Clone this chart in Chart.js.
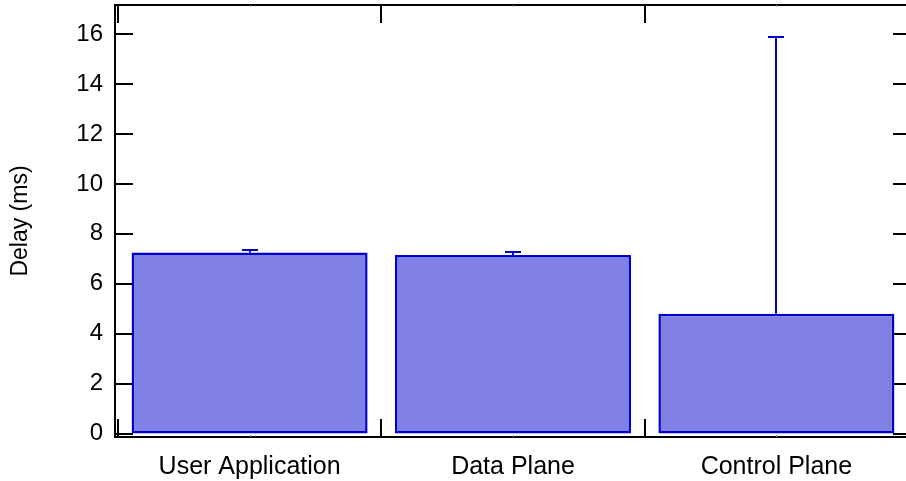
<!DOCTYPE html>
<html>
<head>
<meta charset="utf-8">
<script src="https://cdn.jsdelivr.net/npm/chart.js@4.4.1/dist/chart.umd.min.js"></script>
<style>
  html, body { margin:0; padding:0; background:#fff; }
  #wrap { width:906px; height:481px; overflow:hidden; }
</style>
</head>
<body>
<div id="wrap"><canvas id="chart" width="920" height="481"></canvas></div>
<script>
// data
const categories = ['User Application', 'Data Plane', 'Control Plane'];
const delays = [7.25, 7.15, 4.80];
const errUpper = [0.12, 0.11, 11.10];
const yTicks = [0, 2, 4, 6, 8, 10, 12, 14, 16];

const FAMILY = 'Arial, "Liberation Sans", sans-serif';

// frame with inward ticks + error bars
const framePlugin = {
  id: 'frame',
  afterDatasetsDraw(chart) {
    const ctx = chart.ctx;
    const a = chart.chartArea;
    const xs = chart.scales.x, ys = chart.scales.y;

    // error bars (upper half only)
    ctx.save();
    ctx.strokeStyle = '#0000cc';
    ctx.lineWidth = 2;
    delays.forEach((d, i) => {
      const px = Math.round(xs.getPixelForValue(i));
      const y0 = ys.getPixelForValue(d);
      const y1 = Math.round(ys.getPixelForValue(d + errUpper[i]));
      ctx.beginPath();
      ctx.moveTo(px, y0);
      ctx.lineTo(px, y1);
      ctx.moveTo(px - 8, y1);
      ctx.lineTo(px + 8, y1);
      ctx.stroke();
    });
    ctx.restore();

    ctx.save();
    ctx.strokeStyle = '#000';
    ctx.lineWidth = 2;
    ctx.strokeRect(a.left, a.top, a.right - a.left, a.bottom - a.top);
    const tl = 18;
    ctx.beginPath();
    yTicks.forEach(v => {
      const py = Math.round(ys.getPixelForValue(v));
      ctx.moveTo(a.left, py); ctx.lineTo(a.left + tl, py);
      ctx.moveTo(a.right, py); ctx.lineTo(a.right - tl, py);
    });
    [-0.5, 0.5, 1.5, 2.5].forEach(v => {
      const px = Math.round(xs.getPixelForValue(v));
      ctx.moveTo(px, a.top); ctx.lineTo(px, a.top + tl);
      ctx.moveTo(px, a.bottom); ctx.lineTo(px, a.bottom - tl);
    });
    ctx.stroke();
    ctx.lineWidth = 1;
    ctx.strokeStyle = '#999';
    ctx.beginPath();
    categories.forEach((c, i) => {
      const px = Math.round(xs.getPixelForValue(i)) + 0.5;
      ctx.moveTo(px, a.top); ctx.lineTo(px, a.top + 2);
      ctx.moveTo(px, a.bottom); ctx.lineTo(px, a.bottom - 2);
    });
    ctx.stroke();
    ctx.restore();
  }
};

new Chart(document.getElementById('chart').getContext('2d'), {
  type: 'bar',
  data: {
    datasets: [{
      data: delays.map((v, i) => ({ x: i, y: v })),
      backgroundColor: 'rgb(128,128,228)',
      borderColor: '#0000cc',
      borderWidth: 2.5,
      borderSkipped: false,
      barPercentage: 0.896,
      categoryPercentage: 1
    }]
  },
  options: {
    responsive: false,
    animation: false,
    layout: { padding: { top: 5, right: 9, left: 0, bottom: 0 } },
    plugins: { legend: { display: false }, tooltip: { enabled: false } },
    scales: {
      x: {
        type: 'linear',
        offset: false,
        min: -0.511, max: 2.511,
        grid: { display: false, drawTicks: false },
        border: { display: false },
        afterBuildTicks: s => { s.ticks = categories.map((c, i) => ({ value: i })); },
        afterFit: s => { s.height = 44; s.paddingLeft = 0; s.paddingRight = 0; },
        ticks: {
          color: '#000', font: { family: FAMILY, size: 25 }, padding: 15, maxRotation: 0, autoSkip: false,
          callback: v => categories[v]
        }
      },
      y: {
        min: -0.14, max: 17.17,
        grid: { display: false, drawTicks: false },
        border: { display: false },
        afterBuildTicks: s => { s.ticks = yTicks.map(v => ({ value: v })); },
        afterFit: s => { s.width = 115; s.paddingTop = 0; s.paddingBottom = 0; },
        ticks: { color: '#000', font: { family: FAMILY, size: 24 }, padding: 12 },
        title: { display: true, text: 'Delay (ms)', color: '#000', font: { family: FAMILY, size: 23 }, padding: { top: 7, bottom: 0 } }
      }
    }
  },
  plugins: [framePlugin]
});
</script>
</body>
</html>
